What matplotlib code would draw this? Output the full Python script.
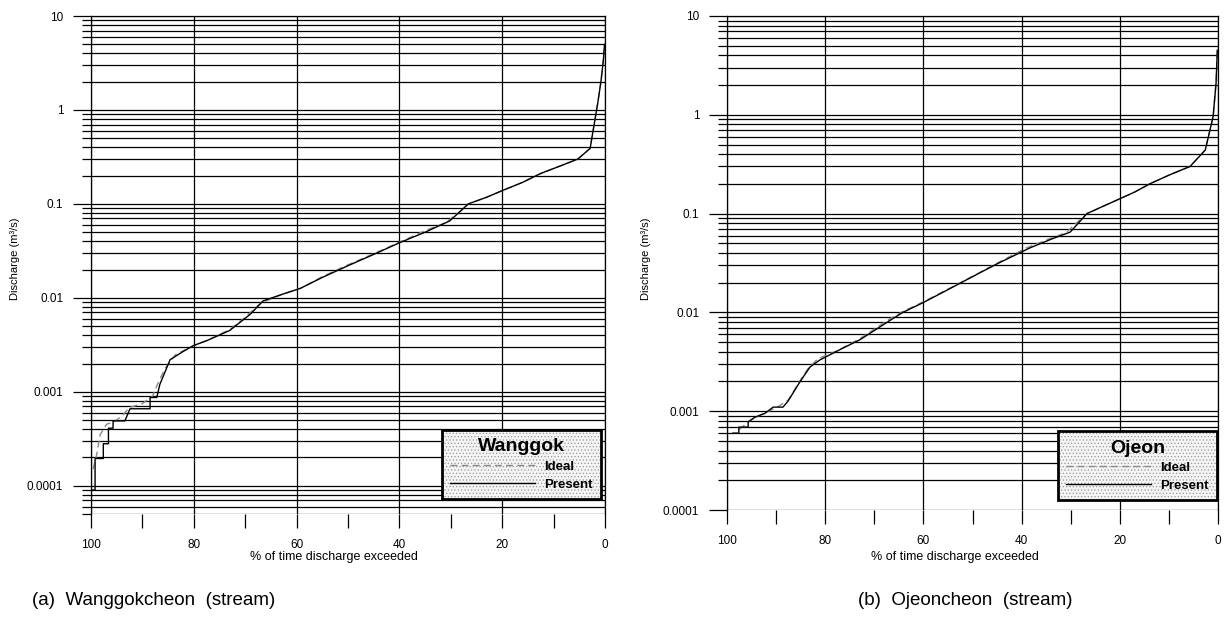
import matplotlib
matplotlib.use("Agg")
import matplotlib.pyplot as plt
from matplotlib.colors import to_rgba
from matplotlib.ticker import LogLocator, MultipleLocator, FuncFormatter, NullFormatter

plt.rcParams['font.family'] = ['Liberation Sans', 'DejaVu Sans']
plt.rcParams['hatch.linewidth'] = 0.5

# Wanggok (a)
wg_pct_present = [99.9, 99.2, 99.2, 97.6, 97.6, 96.6, 96.6, 95.7, 95.7, 93.4, 92.4, 92.4,
                  88.5, 88.5, 87.2, 86.6, 84.6, 82.0, 80.1, 77.5, 73.0, 69.0, 66.5, 62.6,
                  59.3, 55.0, 50.0, 45.0, 40.0, 35.0, 30.2, 28.0, 26.6, 23.0, 19.8, 16.0,
                  12.6, 9.0, 5.3, 2.9, 1.4, 0.8, 0.3, 0.1]
wg_q_present = [0.00009, 0.00009, 0.000195, 0.000195, 0.00028, 0.00028, 0.00041, 0.00041,
                0.00049, 0.00049, 0.00066, 0.00066, 0.00066, 0.00087, 0.00087, 0.0012,
                0.0022, 0.0027, 0.0031, 0.0035, 0.0045, 0.0067, 0.0093, 0.011, 0.0126,
                0.0165, 0.022, 0.029, 0.0386, 0.05, 0.066, 0.085, 0.1, 0.118, 0.14, 0.17,
                0.21, 0.25, 0.30, 0.39, 1.2, 2.0, 3.5, 5.0]
wg_pct_ideal = [99.6, 99.0, 98.2, 97.0, 95.5, 94.0, 92.5, 90.0, 88.0, 86.8, 85.5, 83.5,
                80.0, 77.0, 73.0, 70.0, 67.0, 63.0, 59.0, 55.0, 50.0, 45.0, 40.0, 35.0,
                31.0, 28.0, 26.6, 23.0, 19.8, 16.0, 12.6, 9.0, 5.3, 2.9, 1.4, 0.8, 0.3, 0.1]
wg_q_ideal = [0.00015, 0.0002, 0.00035, 0.00045, 0.00048, 0.00055, 0.00068, 0.00075,
              0.0009, 0.0013, 0.0018, 0.0025, 0.0031, 0.0036, 0.0046, 0.0062, 0.0088,
              0.0108, 0.0128, 0.0168, 0.0225, 0.0295, 0.039, 0.052, 0.063, 0.085, 0.1,
              0.118, 0.14, 0.17, 0.21, 0.25, 0.30, 0.39, 1.2, 2.0, 3.5, 5.0]

# Ojeon (b)
oj_pct_present = [98.8, 97.6, 97.6, 95.7, 95.7, 94.3, 92.3, 90.6, 88.6, 87.6, 85.1, 83.1,
                  81.1, 77.0, 72.9, 66.8, 64.2, 60.0, 55.0, 50.0, 45.0, 38.3, 34.0, 30.1,
                  26.7, 23.5, 20.6, 17.0, 13.9, 10.0, 5.7, 2.6, 1.0, 0.4, 0.15]
oj_q_present = [0.0006, 0.0006, 0.00069, 0.00069, 0.00078, 0.00087, 0.00095, 0.0011,
                0.0011, 0.00126, 0.002, 0.0028, 0.0033, 0.0042, 0.0053, 0.0083, 0.01,
                0.0126, 0.017, 0.023, 0.031, 0.045, 0.055, 0.065, 0.10, 0.118, 0.137,
                0.165, 0.20, 0.245, 0.30, 0.44, 0.96, 2.1, 4.5]
oj_pct_ideal = [97.5, 96.5, 95.0, 93.5, 91.5, 89.5, 87.5, 85.5, 83.5, 81.5, 77.5, 73.0,
                67.0, 64.2, 60.0, 55.0, 50.0, 45.0, 39.0, 35.0, 31.0, 26.7, 23.5, 20.6,
                17.0, 13.9, 10.0, 5.7, 2.6, 1.0, 0.4, 0.15]
oj_q_ideal = [0.00065, 0.00072, 0.00082, 0.0009, 0.001, 0.00112, 0.0013, 0.0019, 0.0027,
              0.0034, 0.0041, 0.0054, 0.0085, 0.0102, 0.0128, 0.0172, 0.0232, 0.0315,
              0.045, 0.054, 0.064, 0.10, 0.118, 0.137, 0.165, 0.20, 0.245, 0.30, 0.44,
              0.96, 2.1, 4.5]

panels = [
    dict(rect=[0.0742, 0.1669, 0.4193, 0.8071], ylim=(5e-5, 10), name='Wanggok',
         pct_p=wg_pct_present, q_p=wg_q_present, pct_i=wg_pct_ideal, q_i=wg_q_ideal,
         leg=(0.992, 0.030), ylab_x=0.012, xlab_x=0.272,
         caption='(a)  Wanggokcheon  (stream)', cap_x=0.125),
    dict(rect=[0.5930, 0.1734, 0.4005, 0.8007], ylim=(1e-4, 10), name='Ojeon',
         pct_p=oj_pct_present, q_p=oj_q_present, pct_i=oj_pct_ideal, q_i=oj_q_ideal,
         leg=(0.998, 0.020), ylab_x=0.527, xlab_x=0.779,
         caption='(b)  Ojeoncheon  (stream)', cap_x=0.787),
]

fig = plt.figure(figsize=(12.26, 6.17), dpi=100)

for p in panels:
    ax = fig.add_axes(p['rect'])
    ax.set_yscale('log')
    ax.set_xlim(100, 0)
    ax.set_ylim(*p['ylim'])

    ax.plot(p['pct_i'], p['q_i'], color='#8a8a8a', lw=1.0, ls=(0, (5, 3)), label='Ideal')
    ax.plot(p['pct_p'], p['q_p'], color='black', lw=1.0, label='Present')

    ax.xaxis.set_major_locator(MultipleLocator(20))
    ax.xaxis.set_minor_locator(MultipleLocator(10))
    ax.yaxis.set_major_locator(LogLocator(base=10))
    ax.yaxis.set_minor_locator(LogLocator(base=10, subs=range(2, 10)))
    ax.yaxis.set_major_formatter(FuncFormatter(lambda v, pos: f'{v:g}'))
    ax.yaxis.set_minor_formatter(NullFormatter())

    ax.grid(True, which='both', axis='y', color='black', lw=0.9)
    ax.grid(True, which='major', axis='x', color='black', lw=0.9)
    ax.set_axisbelow(True)

    ax.tick_params(axis='y', which='major', direction='out', length=13, width=0.9,
                   pad=7, labelsize=8.5)
    ax.tick_params(axis='y', which='minor', direction='out', length=6.5, width=0.9)
    ax.tick_params(axis='x', which='both', direction='out', length=10, width=0.9,
                   pad=8, labelsize=8.5)
    for s in ax.spines.values():
        s.set_linewidth(0.9)
    ax.spines['bottom'].set_visible(False)

    leg = ax.legend(loc='lower right', bbox_to_anchor=p['leg'], borderaxespad=0,
                    title=p['name'], fancybox=False, framealpha=1,
                    handlelength=6.4, handletextpad=0.7, labelspacing=0.4,
                    borderpad=0.65, prop={'weight': 'bold', 'size': 9.5},
                    title_fontproperties={'weight': 'bold', 'size': 14})
    frame = leg.get_frame()
    frame.set_facecolor('#f4f4f4')
    frame.set_edgecolor('black')
    frame.set_linewidth(2)
    frame.set_hatch('.....')
    frame._hatch_color = to_rgba('#9a9a9a')

    fig.text(p['ylab_x'], 0.58, 'Discharge (m\u00b3/s)', rotation=90,
             ha='center', va='center', fontsize=8)
    fig.text(p['xlab_x'], 0.097, '% of time discharge exceeded',
             ha='center', va='center', fontsize=9)
    fig.text(p['cap_x'], 0.027, p['caption'], ha='center', va='center', fontsize=13.5)

fig.savefig('out.png', dpi=100)
